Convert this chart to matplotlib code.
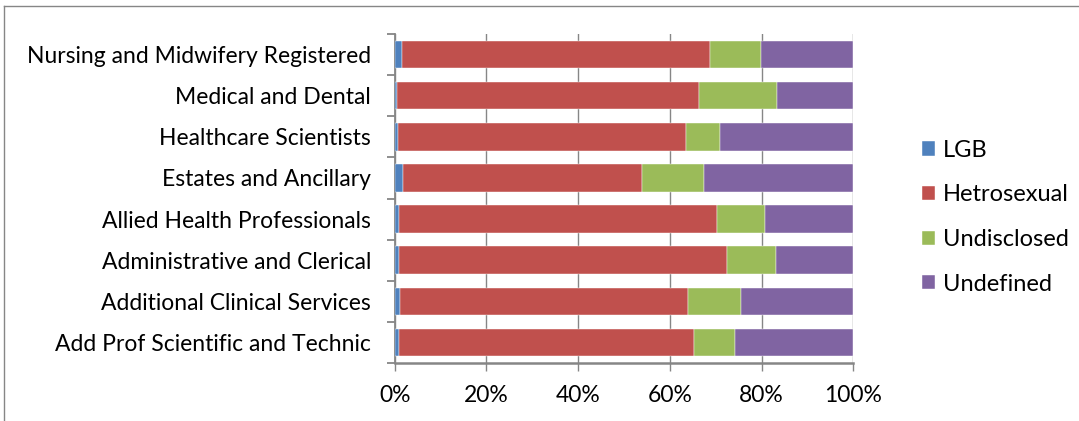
import matplotlib.pyplot as plt
from matplotlib.lines import Line2D
import numpy as np

plt.rcParams['font.family'] = ['Lato', 'DejaVu Sans']

# categories listed bottom to top
categorias = [
    "Add Prof Scientific and Technic",
    "Additional Clinical Services",
    "Administrative and Clerical",
    "Allied Health Professionals",
    "Estates and Ancillary",
    "Healthcare Scientists",
    "Medical and Dental",
    "Nursing and Midwifery Registered",
]
lgb = [0.9, 1.1, 1.0, 1.0, 1.9, 0.8, 0.4, 1.5]
hetrosexual = [64.4, 62.9, 71.5, 69.3, 52.1, 62.7, 66.0, 67.2]
undisclosed = [9.0, 11.6, 10.6, 10.5, 13.4, 7.4, 17.0, 11.2]
undefined = [25.7, 24.4, 16.9, 19.2, 32.6, 29.1, 16.6, 20.1]

series = [
    ("LGB", lgb, "#4F81BD"),
    ("Hetrosexual", hetrosexual, "#C0504D"),
    ("Undisclosed", undisclosed, "#9BBB59"),
    ("Undefined", undefined, "#8064A2"),
]

fig = plt.figure(figsize=(10.79, 4.21), dpi=100)
ax = fig.add_axes([0.3658, 0.1378, 0.425, 0.7814])

y = np.arange(len(categorias))
totales = np.sum([s[1] for s in series], axis=0)
izq = np.zeros(len(categorias))
barras = []
for nombre, valores, color in series:
    pct = np.array(valores) / totales * 100
    b = ax.barh(y, pct, left=izq, height=0.67, color=color, label=nombre,
                edgecolor="white", linewidth=0.3, zorder=3)
    barras.append(b)
    izq += pct

gris = "#868686"
fs = 16.5
ax.set_xlim(0, 100)
ax.set_ylim(-0.5, len(categorias) - 0.5)
ax.set_xticks(np.arange(0, 101, 20))
ax.set_xticklabels([f"{v}%" for v in range(0, 101, 20)])
ax.xaxis.grid(True, color=gris, linewidth=1.0, zorder=0)
ax.set_yticks(y)
ax.set_yticklabels(categorias)
ax.set_yticks(np.arange(-0.5, len(categorias)), minor=True)

ax.tick_params(axis="y", which="major", length=0, pad=17, labelsize=fs)
ax.tick_params(axis="y", which="minor", length=6, width=1.3, color=gris)
ax.tick_params(axis="x", length=6, width=1.0, color=gris, pad=10, labelsize=fs)

for lado in ["top", "right"]:
    ax.spines[lado].set_visible(False)
ax.spines["left"].set_color(gris)
ax.spines["left"].set_linewidth(1.3)
ax.spines["bottom"].set_color(gris)
ax.spines["bottom"].set_linewidth(1.8)

ax.legend(handles=barras, loc="center left", bbox_to_anchor=(0.835, 0.484),
          bbox_transform=fig.transFigure, frameon=False, fontsize=17,
          handlelength=0.56, handleheight=0.56, handletextpad=0.3,
          labelspacing=1.0)

# outer chart border (left and top edges)
fig.add_artist(Line2D([3.5 / 1079, 3.5 / 1079], [0, 1 - 6 / 421],
                      transform=fig.transFigure, color=gris, linewidth=1.0))
fig.add_artist(Line2D([3.5 / 1079, 1], [1 - 6 / 421, 1 - 6 / 421],
                      transform=fig.transFigure, color=gris, linewidth=1.0))

fig.savefig("out.png", dpi=100)
